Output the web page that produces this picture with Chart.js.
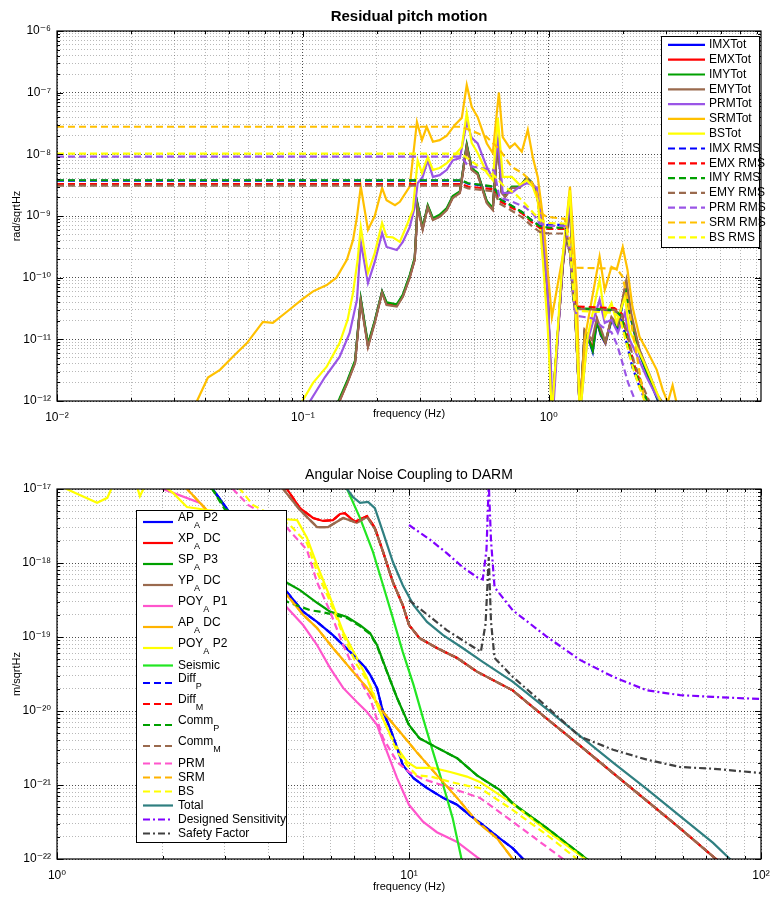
<!DOCTYPE html>
<html>
<head>
<meta charset="utf-8">
<title>Residual pitch motion / Angular Noise Coupling to DARM</title>
<script src="https://cdn.jsdelivr.net/npm/chart.js@4.4.1/dist/chart.umd.min.js"></script>
<style>
  body { margin: 0; background: #fff; }
  .box { position: absolute; left: 0; width: 771px; }
</style>
</head>
<body>
<div class="box" style="top:0;height:430px"><canvas id="pitchChart" width="771" height="430"></canvas></div>
<div class="box" style="top:430px;height:467px"><canvas id="darmChart" width="771" height="467"></canvas></div>
<script>
// ---- Residual pitch motion: [frequency (Hz), rad/sqrtHz] ----
const imxTot = [[0.13,5.3e-13],[0.141,1.05e-12],[0.152,2.1e-12],[0.163,4.3e-12],[0.172,4.4e-11],[0.184,8e-12],[0.196,1.95e-11],[0.21,5.9e-11],[0.219,3.8e-11],[0.241,3.6e-11],[0.255,5.1e-11],[0.272,1.05e-10],[0.285,2e-10],[0.293,1.5e-9],[0.307,6.3e-10],[0.322,1.45e-9],[0.338,9e-10],[0.36,1e-9],[0.385,1.3e-9],[0.407,2.05e-9],[0.435,2.45e-9],[0.464,1.4e-8],[0.486,5.8e-9],[0.514,4.9e-9],[0.56,1.7e-9],[0.592,1.3e-9],[0.621,1.8e-8],[0.644,2.45e-9],[0.665,2.1e-9],[0.708,2.9e-9],[0.762,2.95e-9],[0.814,4.2e-9],[0.853,3.5e-9],[0.894,2.45e-9],[0.946,4.8e-10],[0.99,6e-11],[1.03,6e-13],[1.14,1.55e-10],[1.22,1.5e-9],[1.34,6e-13],[1.4,1.25e-11],[1.47,8.5e-12],[1.51,6.2e-12],[1.57,1.9e-11],[1.63,1.15e-11],[1.7,8.6e-12],[1.8,2e-11],[1.91,1.5e-11],[2.05,6.5e-11],[2.15,2.3e-11],[2.34,5.8e-12],[2.58,2.1e-12],[2.77,1.05e-12],[2.9,7.5e-13]];
const emxTot = [[0.13,5.1e-13],[0.141,1e-12],[0.152,2.05e-12],[0.163,4.2e-12],[0.172,4.2e-11],[0.184,7.8e-12],[0.196,1.9e-11],[0.21,5.8e-11],[0.219,3.7e-11],[0.241,3.5e-11],[0.255,5e-11],[0.272,1.02e-10],[0.285,1.97e-10],[0.293,1.45e-9],[0.307,6.2e-10],[0.322,1.42e-9],[0.338,8.8e-10],[0.36,9.9e-10],[0.385,1.28e-9],[0.407,2e-9],[0.435,2.4e-9],[0.464,1.36e-8],[0.486,5.7e-9],[0.514,4.8e-9],[0.56,1.66e-9],[0.592,1.28e-9],[0.621,1.75e-8],[0.644,2.4e-9],[0.665,2.08e-9],[0.708,2.88e-9],[0.762,2.9e-9],[0.814,4.15e-9],[0.853,3.45e-9],[0.894,2.4e-9],[0.946,4.7e-10],[0.99,5.8e-11],[1.03,6e-13],[1.14,1.5e-10],[1.22,1.45e-9],[1.34,6e-13],[1.4,1.35e-11],[1.47,9.2e-12],[1.51,7e-12],[1.57,2.1e-11],[1.63,1.2e-11],[1.7,8.8e-12],[1.8,2.2e-11],[1.91,1.65e-11],[2.05,7.5e-11],[2.15,2.5e-11],[2.34,6.5e-12],[2.58,2.4e-12],[2.77,1.2e-12],[2.9,8.5e-13]];
const imyTot = [[0.13,5.5e-13],[0.141,1.1e-12],[0.152,2.2e-12],[0.163,4.5e-12],[0.172,4.6e-11],[0.184,8.5e-12],[0.196,2e-11],[0.21,6e-11],[0.219,4e-11],[0.241,3.7e-11],[0.255,5.3e-11],[0.272,1.1e-10],[0.285,2.1e-10],[0.293,1.55e-9],[0.307,6.5e-10],[0.322,1.5e-9],[0.338,9.2e-10],[0.36,1.05e-9],[0.385,1.35e-9],[0.407,2.1e-9],[0.435,2.5e-9],[0.464,1.45e-8],[0.486,6e-9],[0.514,5e-9],[0.56,1.75e-9],[0.592,1.35e-9],[0.621,1.85e-8],[0.644,2.5e-9],[0.665,2.2e-9],[0.708,3e-9],[0.762,3e-9],[0.814,4.2e-9],[0.853,3.5e-9],[0.894,2.5e-9],[0.946,5e-10],[0.99,6.2e-11],[1.03,6e-13],[1.14,1.6e-10],[1.22,1.6e-9],[1.34,6e-13],[1.4,1.3e-11],[1.47,9e-12],[1.51,6.5e-12],[1.57,2e-11],[1.63,1.2e-11],[1.7,9e-12],[1.8,2.1e-11],[1.91,1.6e-11],[2.05,7e-11],[2.15,2.4e-11],[2.34,6e-12],[2.58,2.2e-12],[2.77,1.1e-12],[2.9,8e-13]];
const emyTot = [[0.13,5e-13],[0.141,1e-12],[0.152,2e-12],[0.163,4.1e-12],[0.172,4.1e-11],[0.184,7.5e-12],[0.196,1.85e-11],[0.21,5.7e-11],[0.219,3.6e-11],[0.241,3.4e-11],[0.255,4.9e-11],[0.272,1e-10],[0.285,1.94e-10],[0.293,1.4e-9],[0.307,6e-10],[0.322,1.4e-9],[0.338,8.6e-10],[0.36,9.7e-10],[0.385,1.25e-9],[0.407,1.96e-9],[0.435,2.36e-9],[0.464,1.32e-8],[0.486,5.6e-9],[0.514,4.7e-9],[0.56,1.62e-9],[0.592,1.25e-9],[0.621,1.7e-8],[0.644,2.36e-9],[0.665,2.04e-9],[0.708,2.85e-9],[0.762,2.85e-9],[0.814,4.1e-9],[0.853,3.4e-9],[0.894,2.36e-9],[0.946,4.6e-10],[0.99,5.7e-11],[1.03,6e-13],[1.14,1.5e-10],[1.22,1.8e-9],[1.34,6e-13],[1.4,1.42e-11],[1.5,9.7e-12],[1.57,2.2e-11],[1.66,1.2e-11],[1.7,8.8e-12],[1.8,2.3e-11],[1.91,1.7e-11],[2.07,9.2e-11],[2.17,2.5e-11],[2.34,6.8e-12],[2.58,2.6e-12],[2.77,1.25e-12],[2.93,9e-13]];
const prmTot = [[0.1,6e-13],[0.107,1e-12],[0.123,2.45e-12],[0.141,5.2e-12],[0.155,1.27e-11],[0.166,4.4e-11],[0.172,3.8e-10],[0.184,8.2e-11],[0.196,1.8e-10],[0.21,5.3e-10],[0.219,3.15e-10],[0.241,2.8e-10],[0.255,3.8e-10],[0.272,6.6e-10],[0.285,1.4e-9],[0.293,3.4e-9],[0.307,4.3e-9],[0.322,8e-9],[0.338,4.3e-9],[0.36,4.6e-9],[0.385,5.6e-9],[0.407,8e-9],[0.435,8.7e-9],[0.464,3.35e-8],[0.486,1.85e-8],[0.514,1.5e-8],[0.56,6.2e-9],[0.592,4.1e-9],[0.621,1.7e-8],[0.65,2.36e-9],[0.708,2.4e-9],[0.762,3e-9],[0.814,3.4e-9],[0.861,3.2e-9],[0.894,2.85e-9],[0.946,6.6e-10],[0.99,5.7e-11],[1.04,6e-13],[1.14,1.8e-10],[1.22,1.9e-9],[1.34,6e-13],[1.43,8.7e-12],[1.61,4.4e-11],[1.69,1.85e-11],[1.8,2.07e-11],[1.91,1.27e-11],[2.04,2.7e-11],[2.13,1e-11],[2.3,5.2e-12],[2.5,2.45e-12],[2.7,1.35e-12],[2.88,9e-13]];
const srmTot = [[0.035,7e-13],[0.0371,1e-12],[0.0411,2.4e-12],[0.046,3.2e-12],[0.0519,5.2e-12],[0.0592,8.7e-12],[0.0688,1.92e-11],[0.0755,1.85e-11],[0.0861,2.8e-11],[0.0996,4.5e-11],[0.11,6e-11],[0.125,7.6e-11],[0.137,1e-10],[0.151,1.94e-10],[0.16,4.1e-10],[0.166,9.7e-10],[0.172,3e-9],[0.184,6e-10],[0.196,1e-9],[0.21,2.85e-9],[0.219,1.8e-9],[0.237,1.5e-9],[0.248,1.7e-9],[0.272,3e-9],[0.291,3.35e-8],[0.305,1.7e-8],[0.319,2.8e-8],[0.338,1.6e-8],[0.36,1.7e-8],[0.385,2e-8],[0.415,3e-8],[0.443,3.9e-8],[0.464,1.33e-7],[0.486,5.9e-8],[0.514,4e-8],[0.56,1.5e-8],[0.592,1.05e-8],[0.627,1e-7],[0.65,1.9e-8],[0.694,1.27e-8],[0.728,1.5e-8],[0.777,1.1e-8],[0.822,2.5e-8],[0.861,9e-9],[0.902,4.3e-9],[0.946,1e-9],[0.982,1.94e-10],[1.03,2.3e-11],[1.14,2.2e-10],[1.22,3e-9],[1.3,6.3e-11],[1.34,6e-13],[1.4,1e-11],[1.61,2.2e-10],[1.69,6.3e-11],[1.8,1.5e-10],[1.89,1.35e-10],[2.0,3.15e-10],[2.09,1.35e-10],[2.19,3.4e-11],[2.34,1.1e-11],[2.5,6.8e-12],[2.75,3.2e-12],[2.91,1.5e-12],[3.05,9.5e-13],[3.19,1.8e-12],[3.34,8e-13]];
const bsTot = [[0.095,6e-13],[0.0996,1e-12],[0.11,1.97e-12],[0.125,3.6e-12],[0.141,8.7e-12],[0.152,2.07e-11],[0.16,5.7e-11],[0.167,1.94e-10],[0.172,6.6e-10],[0.184,1.2e-10],[0.196,2.5e-10],[0.21,7.7e-10],[0.219,4.6e-10],[0.232,4.5e-10],[0.248,3.8e-10],[0.267,7.7e-10],[0.28,1.25e-9],[0.293,8e-9],[0.305,5e-9],[0.322,9e-9],[0.338,5.6e-9],[0.36,6e-9],[0.385,7.2e-9],[0.407,9e-9],[0.443,1.32e-8],[0.464,4.7e-8],[0.486,1.53e-8],[0.514,1.05e-8],[0.56,5e-9],[0.592,3.8e-9],[0.621,3.9e-8],[0.65,4.3e-9],[0.708,4.3e-9],[0.762,3.2e-9],[0.814,3.8e-9],[0.861,3e-9],[0.902,1.8e-9],[0.946,1.94e-10],[0.99,1.6e-11],[1.03,6e-13],[1.14,2.2e-10],[1.22,2.6e-9],[1.34,6e-13],[1.44,1.1e-11],[1.61,9.2e-11],[1.69,2.3e-11],[1.8,3.9e-11],[1.89,1.85e-11],[2.04,4.9e-11],[2.13,1.4e-11],[2.28,7.5e-12],[2.45,4.1e-12],[2.65,1.95e-12],[2.88,9e-13]];
const imxRms = [[0.01,3.75e-9],[0.44,3.75e-9],[0.47,3.35e-9],[0.6,2.95e-9],[0.63,1.9e-9],[0.7,1.5e-9],[0.78,1.15e-9],[0.85,8.6e-10],[0.92,7e-10],[1.0,7.2e-10],[1.17,7.2e-10],[1.22,2.7e-10],[1.26,4.2e-11],[1.3,3.1e-11],[1.85,2.9e-11],[1.98,2.3e-11],[2.07,9e-12],[2.19,3.5e-12],[2.34,1.7e-12],[2.5,9e-13]];
const emxRms = [[0.01,3.3e-9],[0.44,3.3e-9],[0.47,3.0e-9],[0.6,2.7e-9],[0.63,1.75e-9],[0.7,1.4e-9],[0.78,1.1e-9],[0.85,8e-10],[0.92,6.4e-10],[1.0,6.2e-10],[1.17,6.2e-10],[1.22,2.6e-10],[1.26,4.6e-11],[1.3,3.4e-11],[1.85,3.2e-11],[1.98,2.6e-11],[2.1,1e-11],[2.22,4e-12],[2.38,1.8e-12],[2.56,9e-13]];
const imyRms = [[0.01,3.8e-9],[0.44,3.8e-9],[0.47,3.4e-9],[0.6,3.0e-9],[0.63,1.9e-9],[0.7,1.5e-9],[0.78,1.15e-9],[0.85,8.5e-10],[0.92,6.8e-10],[1.0,6.5e-10],[1.17,6.5e-10],[1.22,2.6e-10],[1.26,4.4e-11],[1.3,3.2e-11],[1.85,3e-11],[1.98,2.4e-11],[2.07,1e-11],[2.19,3.9e-12],[2.34,1.9e-12],[2.52,1e-12],[2.6,7e-13]];
const emyRms = [[0.01,3.1e-9],[0.44,3.1e-9],[0.47,2.8e-9],[0.6,2.5e-9],[0.63,1.6e-9],[0.7,1.25e-9],[0.78,9.5e-10],[0.85,7e-10],[0.92,5.5e-10],[1.0,5.2e-10],[1.17,5.2e-10],[1.22,2.4e-10],[1.26,4.2e-11],[1.3,3.1e-11],[1.85,3e-11],[1.98,2.5e-11],[2.1,1.1e-11],[2.22,4.4e-12],[2.38,2e-12],[2.56,1e-12],[2.65,7e-13]];
const prmRms = [[0.01,9.2e-9],[0.44,9.2e-9],[0.47,6.5e-9],[0.6,5.5e-9],[0.63,2e-9],[0.7,1.75e-9],[0.8,1.4e-9],[0.87,1.05e-9],[0.92,7.5e-10],[1.0,7e-10],[1.17,6.8e-10],[1.22,2.8e-10],[1.27,3.5e-11],[1.3,2.4e-11],[1.5,2.2e-11],[1.65,1.6e-11],[1.8,1.3e-11],[1.9,8e-12],[2.0,4e-12],[2.1,2e-12],[2.25,1e-12],[2.35,6e-13]];
const srmRms = [[0.01,2.8e-8],[0.44,2.8e-8],[0.5,2.3e-8],[0.56,1.9e-8],[0.63,1.2e-8],[0.708,6.2e-9],[0.78,5e-9],[0.853,3.55e-9],[0.894,2.36e-9],[0.93,1.12e-9],[0.98,9.7e-10],[1.16,9e-10],[1.22,4.1e-10],[1.28,1.45e-10],[1.89,1.4e-10],[2.0,1.03e-10],[2.09,4.4e-11],[2.19,1.4e-11],[2.28,5.6e-12],[2.37,2.2e-12],[2.45,1e-12],[2.5,6e-13]];
const bsRms = [[0.01,1.03e-8],[0.44,1.03e-8],[0.48,8e-9],[0.53,6e-9],[0.6,4.5e-9],[0.66,3e-9],[0.73,2.3e-9],[0.8,1.6e-9],[0.87,1.1e-9],[0.93,8.5e-10],[1.0,7.7e-10],[1.17,7.5e-10],[1.22,3e-10],[1.27,4e-11],[1.3,2.9e-11],[1.85,2.7e-11],[1.95,2.2e-11],[2.05,1e-11],[2.18,3.9e-12],[2.32,1.8e-12],[2.48,9e-13]];

// ---- Angular Noise Coupling to DARM: [frequency (Hz), m/sqrtHz] ----
const apP2 = [[2.5,2e-17],[2.77,1e-17],[4.5,4.06e-19],[5.0,2.2e-19],[5.48,1.6e-19],[6.08,1.06e-19],[6.8,6.3e-20],[7.5,3.9e-20],[7.75,3.1e-20],[8.11,2.05e-20],[8.44,9.7e-21],[8.83,5.9e-21],[9.25,3.2e-21],[9.6,1.86e-21],[10.3,1.24e-21],[11.25,9.1e-22],[12.5,6.7e-22],[13.7,5.4e-22],[14.9,3.9e-22],[16.2,2.9e-22],[18.1,1.9e-22],[19.7,1.4e-22],[21.1,1e-22],[23,7e-23]];
const xpDC = [[4.2,1.3e-17],[4.5,1e-17],[4.9,5.5e-18],[5.34,4.06e-18],[5.7,3.7e-18],[6.08,3.8e-18],[6.37,4.6e-18],[6.57,4.7e-18],[7.02,3.6e-18],[7.6,4.3e-18],[8.0,3e-18],[8.44,1.41e-18],[9.0,5.5e-19],[9.6,2.7e-19],[10.0,1.45e-19],[10.7,9.7e-20],[12.0,7.1e-20],[13.7,5.2e-20],[15.6,3.4e-20],[19.7,1.9e-20],[24.7,7.8e-21],[30.6,3.4e-21],[38,1.45e-21],[47.4,6.1e-22],[58.9,2.6e-22],[74.5,1e-22],[80,7e-23]];
const spP3 = [[2.6,1.3e-17],[2.76,1e-17],[3.5,2e-18],[4.5,5.4e-19],[4.9,4.3e-19],[5.48,2.9e-19],[5.97,2.2e-19],[6.67,1.86e-19],[7.26,1.45e-19],[7.75,1.13e-19],[8.11,7.8e-20],[8.66,3.4e-20],[9.25,1.5e-20],[10.0,6.5e-21],[10.7,4.3e-21],[12.0,3.2e-21],[13.7,2.3e-21],[15.6,1.35e-21],[18.1,8.6e-22],[19.7,5.7e-22],[24.7,2.6e-22],[32,1e-22],[35,7e-23]];
const ypDC = [[4.1,1.3e-17],[4.39,1e-17],[4.9,5.2e-18],[5.48,3.06e-18],[5.89,3.06e-18],[6.5,4.06e-18],[7.11,3.5e-18],[7.6,4.2e-18],[8.0,2.9e-18],[8.44,1.41e-18],[9.0,5.5e-19],[9.6,2.7e-19],[10.0,1.45e-19],[10.7,9.7e-20],[12.0,7.1e-20],[13.7,5.2e-20],[15.6,3.4e-20],[19.7,1.9e-20],[24.7,7.8e-21],[30.6,3.4e-21],[38,1.45e-21],[47.4,6.1e-22],[58.9,2.6e-22],[74.5,1e-22],[80,7e-23]];
const poyP1 = [[1.9,1.3e-17],[2.0,1e-17],[2.55,6.5e-18],[4.5,2.5e-19],[5.0,1.45e-19],[5.48,7.8e-20],[5.97,3.8e-20],[6.5,2.05e-20],[7.11,1.32e-20],[7.6,9.7e-21],[8.11,6.5e-21],[8.66,2.8e-21],[9.25,1.24e-21],[10.0,5.4e-22],[10.96,3.2e-22],[12.0,2.3e-22],[13.7,1.7e-22],[15.6,1.06e-22],[17,8e-23]];
const apDC = [[2.2,1.3e-17],[2.34,1e-17],[4.5,3.7e-19],[5.0,2e-19],[5.48,1.32e-19],[6.08,7.1e-20],[6.8,3.8e-20],[7.6,2.05e-20],[8.44,9.7e-21],[9.43,5.2e-21],[10.5,2.8e-21],[12.0,1.36e-21],[13.7,6.7e-22],[15.6,3.2e-22],[17.8,1.9e-22],[19.7,1e-22],[21,7e-23]];
const poyP2 = [[1.0,1.2e-17],[1.065,1e-17],[1.14,8.6e-18],[1.3,6.5e-18],[1.39,7.6e-18],[1.43,1.03e-17],[1.56,1.3e-17],[1.69,1.06e-17],[1.72,8e-18],[1.77,1.06e-17],[1.96,1.2e-17],[2.14,8.8e-18],[2.34,5.7e-18],[2.67,5.2e-18],[4.47,3.9e-18],[4.81,3.8e-18],[5.13,2.2e-18],[5.48,9.4e-19],[5.97,3.4e-19],[6.5,1.17e-19],[7.11,5.2e-20],[7.6,2.8e-20],[8.11,1.2e-20],[8.66,5.9e-21],[9.25,3.2e-21],[9.87,2.05e-21],[10.5,1.7e-21],[11.7,1.7e-21],[13.1,1.5e-21],[14.6,1.3e-21],[15.9,1.1e-21],[19.7,5.6e-22],[24.7,2.4e-22],[32,9.6e-23]];
const seismic = [[6.3,1.6e-17],[6.67,1e-17],[7.26,4.05e-18],[7.9,1.41e-18],[8.44,5e-19],[9.0,1.8e-19],[9.6,6.3e-20],[10.3,2.25e-20],[10.96,8e-21],[11.7,2.8e-21],[12.5,1e-21],[13.3,3.6e-22],[14.1,1e-22],[14.5,6e-23]];
const commP = [[2.6,1.3e-17],[2.76,1e-17],[3.5,1.6e-18],[4.5,3e-19],[5.24,2.3e-19],[5.58,2.2e-19],[5.97,2.05e-19],[6.67,1.8e-19],[7.26,1.4e-19],[7.75,1.1e-19],[8.11,7.6e-20],[8.66,3.35e-20],[9.25,1.5e-20],[10.0,6.4e-21],[10.7,4.3e-21],[12.0,3.2e-21],[13.7,2.3e-21],[15.6,1.35e-21],[18.1,8.5e-22],[19.7,5.6e-22],[24.7,2.6e-22],[32,1e-22],[35,7e-23]];
const prmCoup = [[3.0,1.3e-17],[3.16,1e-17],[3.49,6.1e-18],[4.5,3e-18],[5.13,1.5e-18],[5.48,5.5e-19],[5.97,2.2e-19],[6.5,7.8e-20],[7.11,3.1e-20],[7.75,1.5e-20],[8.44,4.3e-21],[9.25,2.05e-21],[10.0,1.5e-21],[10.96,1.2e-21],[12.0,1.05e-21],[13.7,8.5e-22],[15.9,6.7e-22],[19.7,3.2e-22],[27.4,1e-22],[30,7e-23]];
const bsCoup = [[3.1,1.3e-17],[3.31,1e-17],[3.6,6.1e-18],[4.59,3.26e-18],[5.13,1.86e-18],[5.48,7.6e-19],[5.97,3e-19],[6.5,1.06e-19],[7.11,4.2e-20],[7.75,2.25e-20],[8.44,8e-21],[9.25,2.8e-21],[9.87,1.86e-21],[10.5,1.36e-21],[11.7,1.28e-21],[13.1,1.1e-21],[14.6,9.8e-22],[15.9,9.1e-22],[19.7,4.6e-22],[24.7,2.1e-22],[30,1e-22],[33,7e-23]];
const totalNoise = [[6.3,1.3e-17],[6.67,1e-17],[6.93,7.8e-18],[7.26,6.5e-18],[7.65,6.7e-18],[8.0,5.5e-18],[8.44,2.6e-18],[9.0,1.03e-18],[9.6,5e-19],[10.3,2.7e-19],[11.25,1.6e-19],[12.5,1.06e-19],[14.2,7.1e-20],[16.2,4.6e-20],[19.7,2.5e-20],[24.7,1.05e-20],[30.6,4.6e-21],[38,2e-21],[47.4,8.8e-22],[58.9,3.8e-22],[73.1,1.65e-22],[81.6,1e-22],[88,7e-23]];
const designSens = [[10.0,3.26e-18],[11.5,2.05e-18],[12.8,1.36e-18],[14.2,8.8e-19],[15.7,6.3e-19],[16.2,6e-19],[16.6,1.5e-18],[16.85,1.2e-17],[17.1,2e-18],[17.5,4.7e-19],[19.7,2.3e-19],[24.7,1e-19],[30.6,4.9e-20],[38,2.9e-20],[47.4,1.9e-20],[58.9,1.64e-20],[73.1,1.55e-20],[100,1.45e-20]];
const safetyFactor = [[10.0,3.16e-19],[11.5,1.86e-19],[12.8,1.24e-19],[14.6,8.3e-20],[16.0,6.3e-20],[16.5,1.5e-19],[16.85,1.2e-18],[17.1,1.6e-19],[17.5,5.2e-20],[19.7,2.9e-20],[24.7,1.13e-20],[30.6,4.5e-21],[38,3e-21],[47.4,2.2e-21],[58.9,1.75e-21],[73.1,1.66e-21],[100,1.45e-21]];

// ---- axis decades and tick labels ----
const pitchXDecades = [0.01, 0.1, 1];
const pitchXLabels = ['10⁻²', '10⁻¹', '10⁰'];
const pitchYDecades = [1e-12, 1e-11, 1e-10, 1e-9, 1e-8, 1e-7, 1e-6];
const pitchYLabels = ['10⁻¹²', '10⁻¹¹', '10⁻¹⁰', '10⁻⁹', '10⁻⁸', '10⁻⁷', '10⁻⁶'];
const darmXDecades = [1, 10, 100];
const darmXLabels = ['10⁰', '10¹', '10²'];
const darmYDecades = [1e-22, 1e-21, 1e-20, 1e-19, 1e-18, 1e-17];
const darmYLabels = ['10⁻²²', '10⁻²¹', '10⁻²⁰', '10⁻¹⁹', '10⁻¹⁸', '10⁻¹⁷'];

Chart.defaults.font.family = '"Liberation Sans", Arial, Helvetica, "DejaVu Sans", sans-serif';
Chart.defaults.color = '#000';

const LW = 2.2;
const DASH = [7, 4];
const DASHDOT = [7, 3, 2, 3];

function isDecade(v) {
  if (!v) return false;
  const e = Math.log10(v);
  return Math.abs(e - Math.round(e)) < 1e-6;
}

function gridTicks(lowExp, highExp, maxValue) {
  const list = [];
  for (let e = lowExp; e <= highExp; e++) {
    for (let m = 1; m <= 9; m++) {
      const v = m * Math.pow(10, e);
      if (v <= maxValue * 1.0001) list.push({ value: v });
    }
  }
  return list;
}

function decadeLabel(decades, labels) {
  return function (value) {
    const i = decades.findIndex(d => Math.abs(value / d - 1) < 1e-6);
    return i >= 0 ? labels[i] : '';
  };
}

function series(label, data, color, dash, width) {
  return {
    label: label,
    data: data.map(p => ({ x: p[0], y: p[1] })),
    borderColor: color,
    backgroundColor: color,
    borderWidth: width || LW,
    borderDash: dash || [],
    pointRadius: 0,
    tension: 0,
    fill: false
  };
}

function logAxis(min, max, lowExp, highExp, decades, labels, horizontal, size, title) {
  return {
    type: 'logarithmic',
    min: min,
    max: max,
    afterBuildTicks: s => { s.ticks = gridTicks(lowExp, highExp, max); },
    afterFit: s => {
      if (horizontal) s.height = size; else s.width = size;
      s.paddingLeft = 0; s.paddingRight = 0; s.paddingTop = 0; s.paddingBottom = 0;
    },
    ticks: {
      autoSkip: false,
      maxRotation: 0,
      padding: horizontal ? 9 : 6,
      font: { size: 12 },
      color: '#000',
      callback: decadeLabel(decades, labels)
    },
    grid: {
      drawTicks: false,
      lineWidth: 1,
      color: ctx => (ctx.tick && isDecade(ctx.tick.value)) ? 'rgba(0,0,0,0.7)' : 'rgba(0,0,0,0.28)'
    },
    border: { display: false, dash: [1, 2] },
    title: title
  };
}

// frame with inner tick marks, centred title and MATLAB-like legend box
const matlabAxes = {
  id: 'matlabAxes',
  afterDatasetsDraw(chart, args, opts) {
    const ctx = chart.ctx;
    const a = chart.chartArea;
    ctx.save();
    ctx.strokeStyle = '#000';
    ctx.lineWidth = 1.2;
    ctx.setLineDash([]);
    ctx.strokeRect(a.left, a.top, a.right - a.left, a.bottom - a.top);

    // inward tick marks on all four sides
    ctx.lineWidth = 1;
    ctx.beginPath();
    chart.scales.x.ticks.forEach(t => {
      const px = Math.round(chart.scales.x.getPixelForValue(t.value)) + 0.5;
      const len = isDecade(t.value) ? 6 : 3;
      ctx.moveTo(px, a.bottom); ctx.lineTo(px, a.bottom - len);
      ctx.moveTo(px, a.top); ctx.lineTo(px, a.top + len);
    });
    chart.scales.y.ticks.forEach(t => {
      const py = Math.round(chart.scales.y.getPixelForValue(t.value)) + 0.5;
      const len = isDecade(t.value) ? 6 : 3;
      ctx.moveTo(a.left, py); ctx.lineTo(a.left + len, py);
      ctx.moveTo(a.right, py); ctx.lineTo(a.right - len, py);
    });
    ctx.stroke();

    ctx.fillStyle = '#000';
    ctx.font = opts.titleFont;
    ctx.textAlign = 'center';
    ctx.textBaseline = 'alphabetic';
    ctx.fillText(opts.title, (a.left + a.right) / 2, opts.titleBaseline);

    const lg = opts.legend;
    ctx.fillStyle = '#fff';
    ctx.fillRect(lg.x, lg.y, lg.w, lg.h);
    ctx.strokeStyle = '#000';
    ctx.lineWidth = 1;
    ctx.strokeRect(lg.x + 0.5, lg.y + 0.5, lg.w, lg.h);

    let y = lg.y + 1.5;
    chart.data.datasets.forEach(ds => {
      const hasSub = ds.label.indexOf('_') >= 0;
      const h = hasSub ? lg.subRow : lg.plainRow;
      const cy = y + h / 2;
      ctx.strokeStyle = ds.borderColor;
      ctx.lineWidth = ds.borderWidth;
      ctx.setLineDash(ds.borderDash || []);
      ctx.beginPath();
      ctx.moveTo(lg.x + lg.lineStart, cy);
      ctx.lineTo(lg.x + lg.lineEnd, cy);
      ctx.stroke();
      ctx.setLineDash([]);

      ctx.fillStyle = '#000';
      ctx.textAlign = 'left';
      ctx.textBaseline = 'middle';
      const tx = lg.x + lg.textStart;
      if (hasSub) {
        const i = ds.label.indexOf('_');
        const main = ds.label.slice(0, i);
        const sub = ds.label.charAt(i + 1);
        const tail = ds.label.slice(i + 2);
        ctx.font = '12px ' + Chart.defaults.font.family;
        ctx.fillText(main, tx, cy - 4);
        const w1 = ctx.measureText(main).width;
        ctx.font = '9px ' + Chart.defaults.font.family;
        ctx.fillText(sub, tx + w1, cy + 4);
        const w2 = ctx.measureText(sub).width;
        ctx.font = '12px ' + Chart.defaults.font.family;
        ctx.fillText(tail, tx + w1 + w2, cy - 4);
      } else {
        ctx.font = '12px ' + Chart.defaults.font.family;
        ctx.fillText(ds.label, tx, cy);
      }
      y += h;
    });
    ctx.restore();
  }
};

function drawOrder(list) {
  // later curves on top, like the original plot
  list.forEach((ds, i) => { ds.order = list.length - i; });
  return list;
}

// ---- top chart ----
const pitchSets = drawOrder([
  series('IMXTot', imxTot, '#0000FF'),
  series('EMXTot', emxTot, '#FF0000'),
  series('IMYTot', imyTot, '#00A000'),
  series('EMYTot', emyTot, '#9A6A4E'),
  series('PRMTot', prmTot, '#9A55E6'),
  series('SRMTot', srmTot, '#FFC000'),
  series('BSTot', bsTot, '#FFFF00'),
  series('IMX RMS', imxRms, '#0000FF', DASH),
  series('EMX RMS', emxRms, '#FF0000', DASH),
  series('IMY RMS', imyRms, '#00A000', DASH),
  series('EMY RMS', emyRms, '#9A6A4E', DASH),
  series('PRM RMS', prmRms, '#9A55E6', DASH),
  series('SRM RMS', srmRms, '#FFC000', DASH),
  series('BS RMS', bsRms, '#FFFF00', DASH)
]);

new Chart(document.getElementById('pitchChart'), {
  type: 'line',
  data: { datasets: pitchSets },
  options: {
    responsive: false,
    animation: false,
    events: [],
    layout: { padding: { top: 31, right: 10, left: 0, bottom: 0 } },
    scales: {
      x: logAxis(0.01, 7.3, -2, 0, pitchXDecades, pitchXLabels, true, 29,
        { display: true, text: 'frequency (Hz)', font: { size: 11 }, color: '#000', padding: { top: 0, bottom: 9 } }),
      y: logAxis(1e-12, 1e-6, -12, -6, pitchYDecades, pitchYLabels, false, 57,
        { display: true, text: 'rad/sqrtHz', font: { size: 11 }, color: '#000', padding: { top: 10, bottom: 0 } })
    },
    plugins: {
      legend: { display: false },
      tooltip: { enabled: false },
      matlabAxes: {
        title: 'Residual pitch motion',
        titleFont: 'bold 15px ' + Chart.defaults.font.family,
        titleBaseline: 21,
        legend: { x: 661, y: 36, w: 98, h: 211, plainRow: 14.8, subRow: 14.8, lineStart: 7, lineEnd: 44, textStart: 48 }
      }
    }
  },
  plugins: [matlabAxes]
});

// ---- bottom chart ----
const darmSets = drawOrder([
  series('AP_A P2', apP2, '#0000FF'),
  series('XP_A DC', xpDC, '#FF0000'),
  series('SP_A P3', spP3, '#00A000'),
  series('YP_A DC', ypDC, '#9A6A4E'),
  series('POY_A P1', poyP1, '#FF55CC'),
  series('AP_A DC', apDC, '#FFB300'),
  series('POY_A P2', poyP2, '#FFFF00'),
  series('Seismic', seismic, '#22E622'),
  series('Diff_P', apP2, '#0000FF', DASH),
  series('Diff_M', xpDC, '#FF0000', DASH),
  series('Comm_P', commP, '#00A000', DASH),
  series('Comm_M', ypDC, '#9A6A4E', DASH),
  series('PRM', prmCoup, '#FF55CC', DASH),
  series('SRM', apDC, '#FFB300', DASH),
  series('BS', bsCoup, '#FFFF00', DASH),
  series('Total', totalNoise, '#2F7F80'),
  series('Designed Sensitivity', designSens, '#8000FF', DASHDOT),
  series('Safety Factor', safetyFactor, '#404040', DASHDOT)
]);
// let a little of the red dashes show through the brown ones
darmSets[9].borderDashOffset = 2;

new Chart(document.getElementById('darmChart'), {
  type: 'line',
  data: { datasets: darmSets },
  options: {
    responsive: false,
    animation: false,
    events: [],
    layout: { padding: { top: 59, right: 10, left: 0, bottom: 0 } },
    scales: {
      x: logAxis(1, 100, 0, 2, darmXDecades, darmXLabels, true, 38,
        { display: true, text: 'frequency (Hz)', font: { size: 11 }, color: '#000', padding: { top: 0, bottom: 3 } }),
      y: logAxis(1e-22, 1e-17, -22, -17, darmYDecades, darmYLabels, false, 57,
        { display: true, text: 'm/sqrtHz', font: { size: 11 }, color: '#000', padding: { top: 10, bottom: 0 } })
    },
    plugins: {
      legend: { display: false },
      tooltip: { enabled: false },
      matlabAxes: {
        title: 'Angular Noise Coupling to DARM',
        titleFont: '14px ' + Chart.defaults.font.family,
        titleBaseline: 49,
        legend: { x: 136, y: 80, w: 150, h: 332, plainRow: 14, subRow: 21, lineStart: 7, lineEnd: 37, textStart: 42 }
      }
    }
  },
  plugins: [matlabAxes]
});
</script>
</body>
</html>
